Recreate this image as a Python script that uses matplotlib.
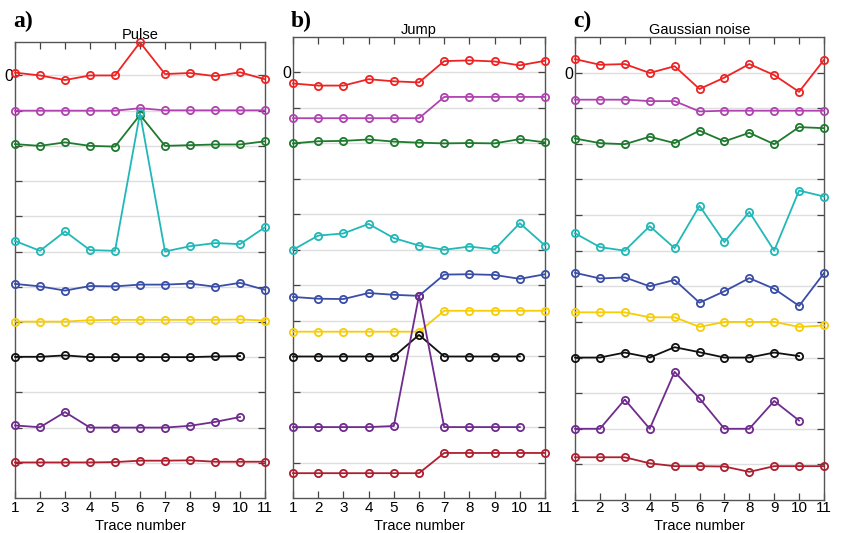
import matplotlib
matplotlib.use("Agg")
import matplotlib.pyplot as plt

# Trace numbers
x_full = list(range(1, 12))

# Vertical offset of each trace (stacked display)
baselines = [0, -1, -2, -5, -6, -7, -8, -10, -11]
colors = ["#ee2424", "#b043b0", "#1f7a2f", "#22b8b8", "#3a4ea8",
          "#f6cd06", "#111111", "#6f2c8e", "#ae1f30"]

# Panel a) Pulse: values relative to each trace's baseline
pulse_red = [0.08, 0.0, -0.13, 0.0, 0.0, 0.94, 0.04, 0.07, -0.02, 0.09, -0.11]
pulse_magenta = [0.0, 0.0, 0.0, 0.0, 0.0, 0.07, 0.01, 0.01, 0.01, 0.01, 0.01]
pulse_green = [0.05, 0.0, 0.10, 0.0, -0.02, 0.88, 0.0, 0.02, 0.04, 0.04, 0.13]
pulse_cyan = [0.30, 0.02, 0.57, 0.04, 0.02, 3.93, 0.0, 0.15, 0.24, 0.21, 0.69]
pulse_blue = [0.08, 0.01, -0.11, 0.02, 0.01, 0.06, 0.06, 0.09, 0.0, 0.11, -0.09]
pulse_yellow = [0.01, 0.01, 0.01, 0.05, 0.06, 0.06, 0.06, 0.06, 0.06, 0.07, 0.04]
pulse_black = [0.01, 0.01, 0.05, 0.0, 0.0, 0.0, 0.0, 0.0, 0.02, 0.03]
pulse_purple = [0.06, 0.01, 0.44, 0.0, 0.0, 0.0, 0.0, 0.05, 0.16, 0.30]
pulse_darkred = [0.01, 0.01, 0.01, 0.01, 0.02, 0.06, 0.06, 0.07, 0.03, 0.03, 0.03]

# Panel b) Jump
jump_red = [-0.31, -0.37, -0.37, -0.19, -0.25, -0.28, 0.32, 0.34, 0.31, 0.20, 0.33]
jump_magenta = [-0.29, -0.29, -0.29, -0.29, -0.29, -0.29, 0.31, 0.31, 0.31, 0.31, 0.31]
jump_green = [0.0, 0.06, 0.07, 0.11, 0.05, 0.02, 0.0, 0.01, 0.0, 0.12, 0.03]
jump_cyan = [0.0, 0.40, 0.46, 0.73, 0.33, 0.12, 0.0, 0.09, 0.01, 0.75, 0.12]
jump_blue = [-0.33, -0.38, -0.39, -0.22, -0.27, -0.30, 0.30, 0.31, 0.29, 0.18, 0.31]
jump_yellow = [-0.31, -0.31, -0.31, -0.31, -0.31, -0.31, 0.28, 0.28, 0.28, 0.28, 0.28]
jump_black = [-0.01, -0.01, -0.01, -0.01, -0.01, 0.60, -0.01, -0.01, -0.01, -0.01]
jump_purple = [0.0, 0.0, 0.0, 0.0, 0.03, 3.71, 0.0, 0.0, 0.0, 0.0]
jump_darkred = [-0.30, -0.30, -0.30, -0.30, -0.30, -0.30, 0.27, 0.27, 0.27, 0.27, 0.27]

# Panel c) Gaussian noise
noise_red = [0.38, 0.22, 0.24, -0.01, 0.18, -0.46, -0.14, 0.24, -0.07, -0.54, 0.36]
noise_magenta = [0.24, 0.24, 0.24, 0.20, 0.20, -0.09, -0.07, -0.07, -0.07, -0.07, -0.07]
noise_green = [0.15, 0.02, -0.01, 0.20, 0.02, 0.37, 0.07, 0.31, -0.01, 0.47, 0.44]
noise_cyan = [0.49, 0.10, 0.0, 0.69, 0.07, 1.26, 0.24, 1.09, 0.0, 1.69, 1.52]
noise_blue = [0.38, 0.22, 0.25, 0.0, 0.18, -0.46, -0.14, 0.23, -0.07, -0.55, 0.37]
noise_yellow = [0.27, 0.27, 0.27, 0.13, 0.13, -0.14, 0.0, 0.0, 0.0, -0.14, -0.10]
noise_black = [0.0, 0.0, 0.14, 0.0, 0.29, 0.15, 0.0, 0.0, 0.14, 0.04]
noise_purple = [0.0, 0.0, 0.82, 0.0, 1.60, 0.85, 0.0, 0.0, 0.78, 0.23]
noise_darkred = [0.20, 0.20, 0.20, 0.03, -0.05, -0.05, -0.06, -0.21, -0.05, -0.05, -0.05]

panels = [
    ("a)", "Pulse", [pulse_red, pulse_magenta, pulse_green, pulse_cyan, pulse_blue,
                     pulse_yellow, pulse_black, pulse_purple, pulse_darkred]),
    ("b)", "Jump", [jump_red, jump_magenta, jump_green, jump_cyan, jump_blue,
                    jump_yellow, jump_black, jump_purple, jump_darkred]),
    ("c)", "Gaussian noise", [noise_red, noise_magenta, noise_green, noise_cyan, noise_blue,
                              noise_yellow, noise_black, noise_purple, noise_darkred]),
]

W, H = 843, 533
# axes boxes in pixels: left, right, top, bottom, y upper limit
boxes = [(15, 265, 42, 498, 0.95), (293, 545, 37, 498, 1.0), (575, 824, 37, 500, 1.0)]

SANS = ["Liberation Sans", "DejaVu Sans"]
fig = plt.figure(figsize=(W / 100, H / 100), dpi=100)

for (label, title, traces), (l, r, t, b, ytop) in zip(panels, boxes):
    ax = fig.add_axes([l / W, 1 - b / H, (r - l) / W, (b - t) / H])
    ax.set_xlim(1, 11)
    ax.set_ylim(-12, ytop)
    for base, vals, col in zip(baselines, traces, colors):
        xs = x_full[:len(vals)]
        ys = [base + v for v in vals]
        ax.plot(xs, ys, color=col, lw=1.3, marker="o", ms=5.2, mfc="none",
                mew=1.3, clip_on=False, zorder=3)
    ax.set_yticks(list(range(-11, 1)))
    ax.set_yticklabels(["0" if v == 0 else "" for v in range(-11, 1)],
                       fontfamily=SANS, fontsize=11.5)
    ax.set_xticks(x_full)
    ax.set_xticklabels([str(v) for v in x_full], fontfamily=SANS, fontsize=11)
    ax.grid(axis="y", color="#dedede", lw=1.0, zorder=0)
    ax.tick_params(direction="in", length=5, width=0.9, top=True, right=True,
                   color="#444444", pad=1.5)
    # keep the tick labels of all panels on one row
    ax.tick_params(axis="x", pad=max(0.5, 2.2 - (b - 498) * 0.72))
    for s in ax.spines.values():
        s.set_linewidth(1.0)
        s.set_color("#555555")
    # axis label placed at a common baseline under every panel
    fig.text((l + r) / 2 / W, 1 - 530 / H, "Trace number", fontfamily=SANS,
             fontsize=10.5, ha="center", va="baseline")
    ax.set_title(title, fontfamily=SANS, fontsize=10.5, pad=2)
    fig.text((l - 2) / W, 1 - 21 / H, label, fontfamily="Liberation Serif",
             fontweight="bold", fontsize=17, ha="left", va="center")

fig.savefig("out.png", dpi=100)
